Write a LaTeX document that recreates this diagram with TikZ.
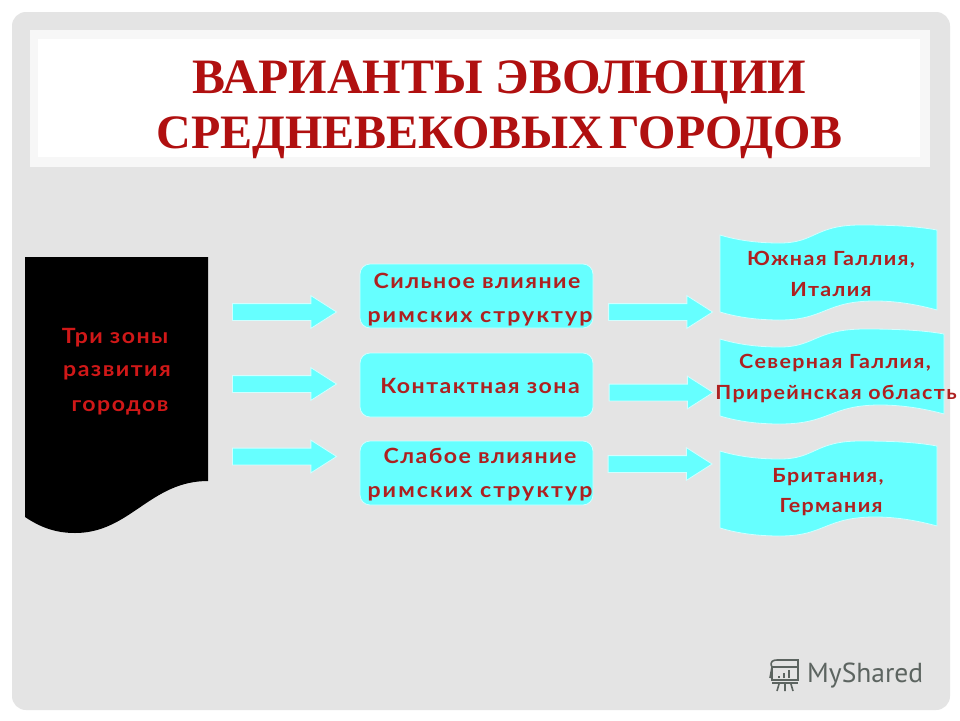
\documentclass[tikz,border=0pt]{standalone}
\usepackage{fontspec}
\usetikzlibrary{shapes.arrows}
\setmainfont{Liberation Serif}
\newfontfamily\labelfont[LetterSpace=7,FakeStretch=1.1]{Lato Bold}
\newfontfamily\widelabelfont[LetterSpace=10,FakeStretch=1.1]{Lato Bold}
\newfontfamily\logofont{PT Sans}
\definecolor{panelgray}{HTML}{E4E4E4}
\definecolor{aqua}{HTML}{66FFFF}
\definecolor{titlered}{HTML}{B01010}
\definecolor{labelred}{HTML}{AE2020}
\definecolor{brightred}{HTML}{D01818}
\definecolor{logogray}{HTML}{5C6460}
\tikzset{
  shapeline/.style={draw=white!70!aqua,line width=0.8pt,fill=aqua},
  blockarrow/.style={shape=single arrow,shapeline,inner sep=8pt,outer sep=0pt,
     minimum width=32pt,minimum height=104pt,single arrow head extend=8pt,
     single arrow tip angle=65,single arrow head indent=0pt},
  zonebox/.style={shapeline,rounded corners=10pt,minimum width=233pt,minimum height=64pt,inner sep=0pt},
  lbl/.style={font=\labelfont\fontsize{21}{21}\selectfont,text=labelred,inner sep=0pt,anchor=base},
  widelbl/.style={lbl,font=\widelabelfont\fontsize{21}{21}\selectfont},
  rlbl/.style={lbl,font=\labelfont\fontsize{19.5}{20}\selectfont},
  zlbl/.style={lbl,text=brightred},
  ttl/.style={font=\bfseries\fontsize{49.5}{50}\selectfont,text=titlered,inner sep=0pt,anchor=base},
}
\begin{document}
\begin{tikzpicture}[x=1pt,y=-1pt]
\useasboundingbox (0,0) rectangle (960,720);
\fill[white] (0,0) rectangle (960,720);
\fill[panelgray,rounded corners=14pt] (12,12) rectangle (950,710);
% title band
\fill[black!3] (30,30) rectangle (930,167);
\fill[white] (38,39) rectangle (920,157);
\node[ttl] (t1) at (499.5,93) {ВАРИАНТЫ ЭВОЛЮЦИИ};
\node[ttl,font=\bfseries\fontsize{48}{50}\selectfont] (t2) at (499.5,148) {СРЕДНЕВЕКОВЫХ\hspace{-6pt} ГОРОДОВ};
% left document
\fill[black] (25,257) -- (208,257) -- (208,481)
  .. controls (150,481) and (130,533) .. (75,533)
  .. controls (55,533) and (40,527) .. (25,517) -- cycle;
\node[zlbl] (z1) at (115,343) {Три зоны};
\node[zlbl] (z2) at (117,376) {развития};
\node[zlbl] (z3) at (120,411) {городов};
% left arrows
\node[blockarrow] (a1) at (278,312) {};
\node[blockarrow] (a2) at (278,384) {};
\node[blockarrow] (a3) at (278,456.5) {};
% boxes
\node[zonebox] (b1) at (476.5,296) {};
\node[zonebox] (b2) at (476.5,385) {};
\node[zonebox] (b3) at (476.5,473) {};
\node[lbl] (b1a) at (477,288) {Сильное влияние};
\node[widelbl] (b1b) at (480,322) {римских структур};
\node[lbl] (b2a) at (480,393) {Контактная зона};
\node[lbl] (b3a) at (480,463) {Слабое влияние};
\node[widelbl] (b3b) at (480,497) {римских структур};
% right arrows
\node[blockarrow] (c1) at (654,312) {};
\node[blockarrow] (c2) at (654.5,392.5) {};
\node[blockarrow] (c3) at (653.5,464) {};
% banners
\path[shapeline] (720,235) .. controls (740,241) and (760,243) .. (780,243)
  .. controls (815,243) and (815,225) .. (860,225)
  .. controls (890,225) and (915,226) .. (937,230) -- (937,310)
  .. controls (915,304) and (895,301) .. (875,301)
  .. controls (825,301) and (825,320) .. (780,320)
  .. controls (760,320) and (740,318) .. (720,312) -- cycle;
\path[shapeline] (720,339) .. controls (740,345) and (760,347) .. (780,347)
  .. controls (815,347) and (815,329) .. (865,329)
  .. controls (895,329) and (922,330) .. (944,334) -- (944,414)
  .. controls (922,408) and (900,405) .. (880,405)
  .. controls (830,405) and (830,424) .. (780,424)
  .. controls (760,424) and (740,422) .. (720,416) -- cycle;
\path[shapeline] (720,451) .. controls (740,457) and (760,459) .. (780,459)
  .. controls (815,459) and (815,441) .. (860,441)
  .. controls (890,441) and (915,442) .. (937,446) -- (937,526)
  .. controls (915,520) and (895,517) .. (875,517)
  .. controls (825,517) and (825,536) .. (780,536)
  .. controls (760,536) and (740,534) .. (720,528) -- cycle;
\node[rlbl] (r1a) at (831,265) {Южная Галлия,};
\node[rlbl] (r1b) at (831,296) {Италия};
\node[rlbl] (r2a) at (835,368) {Северная Галлия,};
\node[rlbl] (r2b) at (836,399) {Прирейнская область};
\node[rlbl] (r3a) at (828,482) {Британия,};
\node[rlbl] (r3b) at (831,512) {Германия};
% logo
\node[font=\logofont\fontsize{27.5}{28}\selectfont,text=logogray,inner sep=0pt,anchor=base west] (logo) at (807,682) {MyShared};
\begin{scope}[draw=logogray,line width=1.6pt]
\draw (772,667) rectangle (798,680);
\draw (772,667) .. controls (769,661) and (774,660) .. (777,660) -- (798,660) -- (798,667);
\draw (772,667) -- (770,678);
\draw (779,684) -- (777,691) (785,684) -- (785,691) (791,684) -- (793,691);
\draw (772,683) -- (798,683);
\draw[line width=2pt] (779,678) -- (779,676) (784,678) -- (784,673) (789,678) -- (789,670);
\end{scope}
\end{tikzpicture}
\end{document}
